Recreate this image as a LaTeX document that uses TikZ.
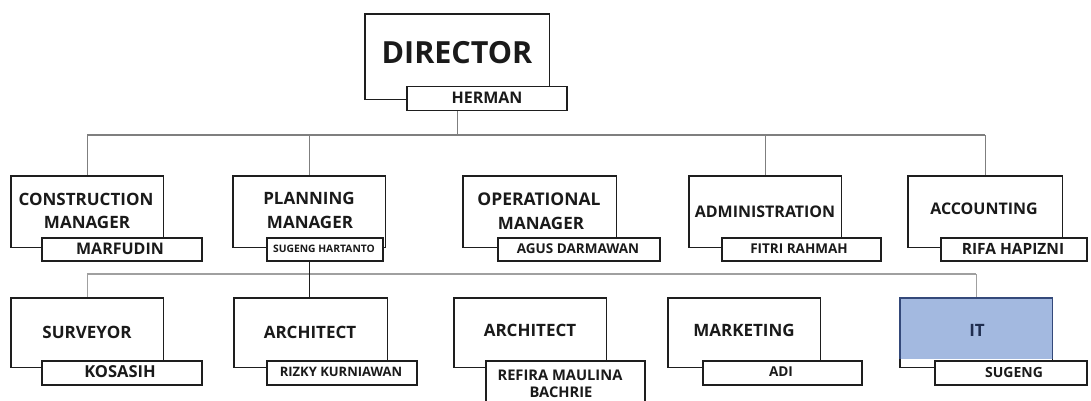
\documentclass[tikz,border=0pt]{standalone}
\usepackage{fontspec}
\setmainfont{Open Sans}
\definecolor{boxc}{HTML}{1E1E1E}
\definecolor{linec}{HTML}{7F7F7F}
\definecolor{linel}{HTML}{A0A0A0}
\definecolor{txtc}{HTML}{1A1A1A}
\definecolor{itfill}{HTML}{A3B9E0}
\definecolor{itline}{HTML}{34497A}
\definecolor{ittext}{HTML}{1F2D4F}
\newcommand{\fs}[1]{\fontsize{#1pt}{#1pt}\selectfont}
\begin{document}
\begin{tikzpicture}[x=1pt,y=-1pt,
  box/.style={draw=none, fill=none, rectangle, anchor=north west, inner sep=0pt},
  namebox/.style={draw=boxc, fill=white, line width=1.5pt, rectangle, anchor=north west, inner sep=0pt},
  conn/.style={draw=linec, line width=1.2pt},
  connl/.style={draw=linel, line width=1.2pt},
  connd/.style={draw=boxc, line width=1.2pt},
  lbl/.style={inner sep=0pt, text=txtc, font=\bfseries},
]
\useasboundingbox (0,0) rectangle (1091,401);

\coordinate (bus1) at (457,135);
\coordinate (bus2) at (457,274);

% ---------- box frames (named) ----------
\node[box, minimum width=184pt, minimum height=85pt] (dir) at (365,14) {};
\node[box, minimum width=152pt, minimum height=71pt] (con) at (11,176) {};
\node[box, minimum width=152pt, minimum height=71pt] (pla) at (233,176) {};
\node[box, minimum width=153pt, minimum height=71pt] (ope) at (463,176) {};
\node[box, minimum width=152pt, minimum height=71pt] (adm) at (689,176) {};
\node[box, minimum width=154pt, minimum height=71pt] (acc) at (908,176) {};
\node[box, minimum width=152pt, minimum height=69pt] (sur) at (11,298) {};
\node[box, minimum width=153pt, minimum height=69pt] (arA) at (234,298) {};
\node[box, minimum width=152pt, minimum height=69pt] (arB) at (454,298) {};
\node[box, minimum width=152pt, minimum height=69pt] (mkt) at (668,298) {};
\node[box, minimum width=152pt, minimum height=69pt] (itb) at (900,298) {};

% ---------- connectors ----------
\draw[conn] (dir.south) -- (dir.south |- bus1);
\draw[conn] (con.north |- bus1) -- (acc.north |- bus1);
\draw[conn] (con.north |- bus1) -- (con.north);
\draw[conn] (pla.north |- bus1) -- (pla.north);
\draw[conn] (adm.north |- bus1) -- (adm.north);
\draw[conn] (acc.north |- bus1) -- (acc.north);

\draw[connl] (sur.north |- bus2) -- (itb.north |- bus2);
\draw[connl] (sur.north |- bus2) -- (sur.north);
\draw[connl] (itb.north |- bus2) -- (itb.north);
\draw[connd] (pla.south) -- (pla.south |- arA.north);

% ---------- boxes ----------
\foreach \n in {dir,con,pla,ope,adm,acc,sur,arA,arB,mkt}{
  \draw[boxc, line width=1.5pt, fill=white] (\n.north west) rectangle (\n.south east);
}
\fill[white] (itb.north west) rectangle (itb.south east);
\fill[itfill] (itb.north west) rectangle ([yshift=-61pt]itb.north east);
\draw[boxc, line width=1.5pt] (itb.north west) rectangle (itb.south east);
\draw[itline, line width=1.5pt] ([yshift=-61pt]itb.north west) -- (itb.north west) -- (itb.north east) -- ([yshift=-61pt]itb.north east);

% ---------- name boxes ----------
\node[namebox, minimum width=160pt, minimum height=24pt] (herb) at (406,86) {};
\node[namebox, minimum width=160pt, minimum height=23pt] (conN) at (41,237) {};
\node[namebox, minimum width=116pt, minimum height=23pt] (plaN) at (266,237) {};
\node[namebox, minimum width=162pt, minimum height=23pt] (opeN) at (497,237) {};
\node[namebox, minimum width=159pt, minimum height=23pt] (admN) at (721,237) {};
\node[namebox, minimum width=146pt, minimum height=23pt] (accN) at (940,237) {};
\node[namebox, minimum width=160pt, minimum height=24pt] (surN) at (41,360) {};
\node[namebox, minimum width=150pt, minimum height=24pt] (arAN) at (266,360) {};
\node[namebox, minimum width=159pt, minimum height=50pt] (arBN) at (485,360) {};
\node[namebox, minimum width=159pt, minimum height=24pt] (mktN) at (702,360) {};
\node[namebox, minimum width=152pt, minimum height=24pt] (itN) at (934,360) {};

% ---------- texts ----------
\node[lbl] (tdir) at (457,53) {\fs{30.5}DIRECTOR};
\node[lbl] (ther) at (487,98) {\fs{16}HERMAN};

\node[lbl] (tcon1) at (86,199) {\fs{17}CONSTRUCTION};
\node[lbl] (tcon2) at (87,222) {\fs{17}MANAGER};
\node[lbl] (tconN) at (120,248.5) {\fs{16}MARFUDIN};

\node[lbl] (tpla1) at (309,198) {\fs{17}PLANNING};
\node[lbl] (tpla2) at (310,222) {\fs{17}MANAGER};
\node[lbl] (tplaN) at (324,248.5) {\fs{10.3}SUGENG HARTANTO};

\node[lbl] (tope1) at (539,199) {\fs{17.5}OPERATIONAL};
\node[lbl] (tope2) at (541,223) {\fs{17}MANAGER};
\node[lbl] (topeN) at (578,248.5) {\fs{13.5}AGUS DARMAWAN};

\node[lbl] (tadm) at (765,212) {\fs{16}ADMINISTRATION};
\node[lbl] (tadmN) at (799,248.5) {\fs{13.5}FITRI RAHMAH};

\node[lbl] (tacc) at (984,209) {\fs{16}ACCOUNTING};
\node[lbl] (taccN) at (1013,248.5) {\fs{15.5}RIFA HAPIZNI};

\node[lbl] (tsur) at (87,332) {\fs{17}SURVEYOR};
\node[lbl] (tsurN) at (120,372) {\fs{16.5}KOSASIH};

\node[lbl] (tarA) at (310,332) {\fs{17}ARCHITECT};
\node[lbl] (tarAN) at (341,372) {\fs{13}RIZKY KURNIAWAN};

\node[lbl] (tarB) at (530,330) {\fs{17}ARCHITECT};
\node[lbl] (tarBN1) at (560,375) {\fs{14.7}REFIRA MAULINA};
\node[lbl] (tarBN2) at (561,392) {\fs{14.7}BACHRIE};

\node[lbl] (tmkt) at (744,330) {\fs{17}MARKETING};
\node[lbl] (tmktN) at (781,372) {\fs{13.6}ADI};

\node[lbl, text=ittext] (tit) at (977,330) {\fs{17}IT};
\node[lbl] (titN) at (1014,372) {\fs{14}SUGENG};
\end{tikzpicture}
\end{document}
